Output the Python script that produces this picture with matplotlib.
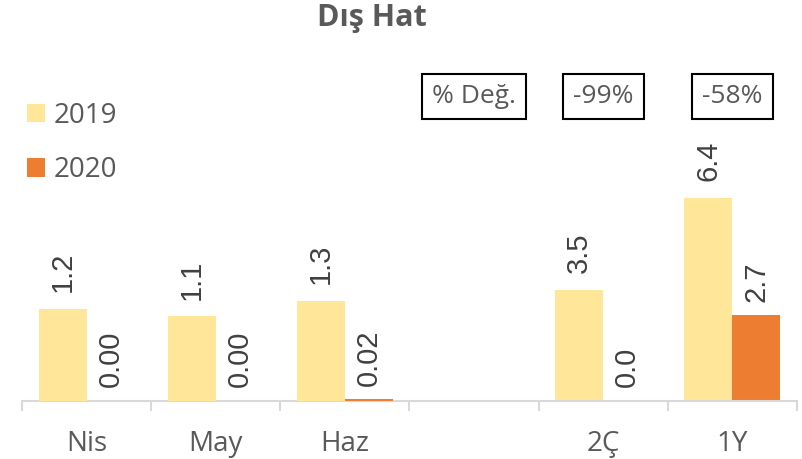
import numpy as np
import matplotlib.pyplot as plt

# veriler
categories = ['Nis', 'May', 'Haz', '', '2Ç', '1Y']
monthly_2019 = [1.2, 1.1, 1.3]
monthly_2020 = [0.00, 0.00, 0.02]
monthly_lbl_2020 = ['0.00', '0.00', '0.02']
quarter_2019 = [3.5, 6.4]
quarter_2020 = [0.0, 2.7]
quarter_lbl_2020 = ['0.0', '2.7']
change_labels = ['% Değ.', '-99%', '-58%']

c2019 = '#FFE699'
c2020 = '#ED7D31'
txt = '#404040'
grey = '#595959'

W, H = 803, 459
fig = plt.figure(figsize=(W / 100, H / 100), dpi=100)
ax = fig.add_axes([22 / W, 58 / H, 775 / W, 341 / H])
ax2 = ax.twinx()

xm = np.arange(3)
xq = np.arange(4, 6)
bw = 48 / 129

# aylik seri ikinci eksende
ax2.bar(xm - bw / 2, monthly_2019, bw, color=c2019)
ax2.bar(xm + bw / 2, monthly_2020, bw, color=c2020)
# ceyrek / yil seri birinci eksende
ax.bar(xq - bw / 2, quarter_2019, bw, color=c2019, label='2019')
ax.bar(xq + bw / 2, quarter_2020, bw, color=c2020, label='2020')

lblfont = dict(family='Liberation Sans', size=21, color=txt, rotation=90,
               ha='center', va='bottom')
for x, v in zip(xm, monthly_2019):
    ax2.annotate(f'{v:.1f}', (x - bw / 2, v), xytext=(0, 12),
                 textcoords='offset points', **lblfont)
for x, v, s in zip(xm, monthly_2020, monthly_lbl_2020):
    ax2.annotate(s, (x + bw / 2, v), xytext=(0, 10),
                 textcoords='offset points', **lblfont)
for x, v in zip(xq, quarter_2019):
    ax.annotate(f'{v:.1f}', (x - bw / 2, v), xytext=(0, 12),
                textcoords='offset points', **lblfont)
for x, v, s in zip(xq, quarter_2020, quarter_lbl_2020):
    ax.annotate(s, (x + bw / 2, v), xytext=(0, 10),
                textcoords='offset points', **lblfont)

ax.set_ylim(0, 341 / 31.7)
ax2.set_ylim(0, 341 / 77)
ax.set_xlim(-0.5, 5.5)

for a in (ax, ax2):
    for s in ('top', 'right', 'left'):
        a.spines[s].set_visible(False)
    a.set_yticks([])
ax2.spines['bottom'].set_visible(False)
ax.spines['bottom'].set_color('#D9D9D9')
ax.spines['bottom'].set_linewidth(1.5)

ax.set_xticks(np.arange(-0.5, 6, 1))
ax.set_xticklabels([])
ax.tick_params(axis='x', which='major', length=7.5, width=1.5, color='#D9D9D9')
ax.set_xticks(np.arange(6), minor=True)
ax.set_xticklabels(categories, minor=True, family='Open Sans', fontsize=20, color=grey)
ax.tick_params(axis='x', which='minor', length=0, pad=21)

# degisim kutulari
for x, s in zip([3, 4, 5], change_labels):
    ax.text(x, 0.894, s, transform=ax.get_xaxis_transform(), ha='center', va='center',
            family='Open Sans', fontsize=19, color=grey,
            bbox=dict(boxstyle='square,pad=0.38', fc='white', ec='black', lw=1.5))

fig.legend(loc='upper left', bbox_to_anchor=(13 / W, 1 - 88 / H), frameon=False,
           prop={'family': 'Open Sans', 'size': 20}, labelcolor=grey,
           handlelength=0.65, handleheight=0.65, handletextpad=0.3,
           labelspacing=0.95, borderpad=0)

fig.text(372 / W, 1 - 18 / H, 'Dış Hat', ha='center', va='center',
         family='Open Sans', fontsize=22, fontweight='bold', color=grey)

fig.savefig('out.png', dpi=100)
